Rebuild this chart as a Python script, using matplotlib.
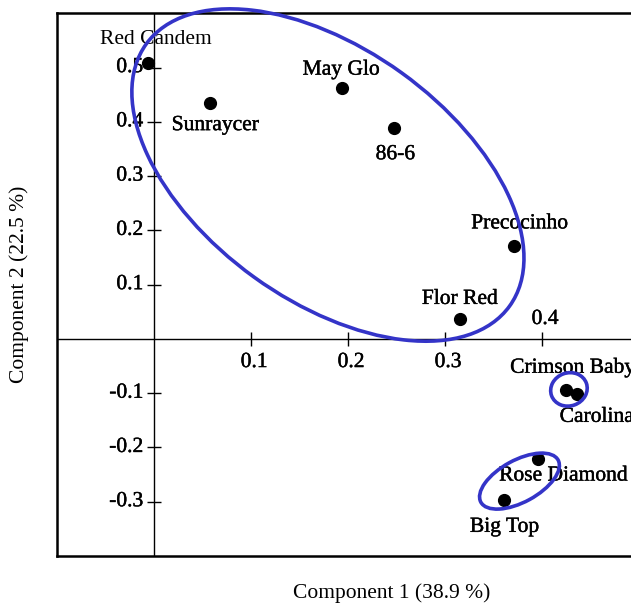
"""PCA biplot of cultivars on the first two components, with cluster outlines."""
import matplotlib
matplotlib.use("Agg")
import matplotlib.pyplot as plt
import matplotlib.patheffects as pe
from matplotlib.patches import Ellipse
from matplotlib.transforms import ScaledTranslation

plt.rcParams["font.family"] = ["Liberation Serif", "DejaVu Serif"]

# Component scores
cultivars = ["Red Candem", "Sunraycer", "May Glo", "86-6", "Precocinho", "Flor Red",
             "Crimson Baby", "Carolina", "Rose Diamond", "Big Top"]
comp1 = [-0.007, 0.057, 0.194, 0.247, 0.371, 0.315, 0.424, 0.436, 0.396, 0.361]
comp2 = [0.508, 0.434, 0.462, 0.388, 0.171, 0.037, -0.095, -0.101, -0.222, -0.296]

# label offsets (points) from each marker
label_offsets = [(6, 17), (4, -16), (-1, 13), (1, -19), (4, 16), (0, 14),
                 (5, 16), (14, -17), (18, -12), (0, -20)]

xticks = [0.1, 0.2, 0.3, 0.4]
yticks = [-0.3, -0.2, -0.1, 0.1, 0.2, 0.3, 0.4, 0.5]

# cluster outlines: centre (data), width / height (inches), angle (deg)
clusters = [
    ((0.179, 0.302), 4.48, 2.52, -35.8),
    ((0.4275, -0.093), 0.37, 0.33, 20),
    ((0.3765, -0.262), 0.88, 0.42, 28.6),
]

BLUE = "#3434c8"
dark_fx = [pe.withStroke(linewidth=0.3, foreground="black")]

fig = plt.figure(figsize=(6.31, 6.05), dpi=100)
ax = fig.add_axes([0.0908, 0.081, 0.9223, 0.897])
ax.set_xlim(-0.1, 0.5)
ax.set_ylim(-0.4, 0.6)
ax.set_xticks([])
ax.set_yticks([])
for sp in ax.spines.values():
    sp.set_linewidth(1.8)

# axes through the origin
ax.axhline(0, color="black", lw=1.0, zorder=1)
ax.axvline(0, color="black", lw=1.0, zorder=1)
ax.plot(xticks, [0] * len(xticks), ls="none", marker="|", ms=10, mew=1.0, color="black")
ax.plot([0] * len(yticks), yticks, ls="none", marker="_", ms=10, mew=1.0, color="black")

for t in xticks:
    dy = 14 if t == 0.4 else -17
    ax.annotate(f"{t:.1f}", (t, 0), xytext=(2, dy), textcoords="offset points",
                ha="center", va="center", fontsize=15.5, path_effects=dark_fx)
for t in yticks:
    ax.annotate(f"{t:.1f}", (0, t), xytext=(-8, 0), textcoords="offset points",
                ha="right", va="center", fontsize=15.5, path_effects=dark_fx)

ax.scatter(comp1, comp2, s=72, color="black", zorder=3)

for name, x, y, (ox, oy) in zip(cultivars, comp1, comp2, label_offsets):
    fx = [] if name == "Red Candem" else dark_fx
    ax.annotate(name, (x, y), xytext=(ox, oy), textcoords="offset points",
                ha="center", va="center", fontsize=15.5, path_effects=fx,
                annotation_clip=False)

for (cx, cy), w, h, ang in clusters:
    tr = fig.dpi_scale_trans + ScaledTranslation(cx, cy, ax.transData)
    ax.add_patch(Ellipse((0, 0), w, h, angle=ang, transform=tr, fill=False,
                         edgecolor=BLUE, lw=2.6, zorder=4, clip_on=False))

fig.text(0.62, 0.004, "Component 1 (38.9 %)", ha="center", va="bottom", fontsize=15.5)
fig.text(0.03, 0.53, "Component 2 (22.5 %)", ha="center", va="center",
         rotation=90, fontsize=15.5)

fig.savefig("out.png", dpi=100)
